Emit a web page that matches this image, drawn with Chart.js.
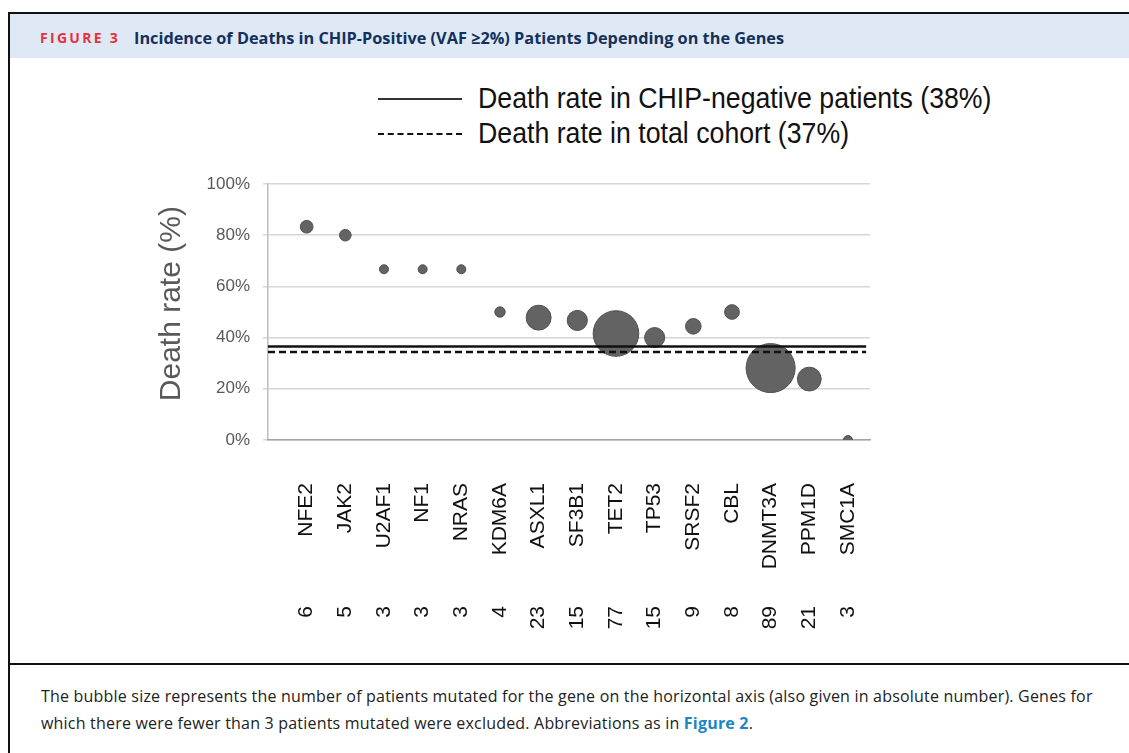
<!DOCTYPE html>
<html>
<head>
<meta charset="utf-8">
<script src="https://cdn.jsdelivr.net/npm/chart.js@4.4.1/dist/chart.umd.min.js"></script>
<style>
body{margin:0;background:#fff;width:1129px;height:753px;overflow:hidden;position:relative;font-family:"Open Sans",sans-serif}
.ln{position:absolute;background:#111}
#band{position:absolute;left:10px;top:14px;width:1119px;height:44px;background:#dfe9f5}
#fig{position:absolute;left:40px;top:28px;line-height:20px;font-size:14px;font-weight:700;letter-spacing:2.3px;color:#e5323b}
#ttl{position:absolute;left:134px;top:28px;line-height:20px;font-size:16.3px;font-weight:700;color:#13315c;white-space:nowrap}
#cap{position:absolute;left:41px;top:683px;line-height:27px;font-size:16px;letter-spacing:0.2px;color:#222;white-space:nowrap}
#cap b{color:#1a87c4}
#legend{position:absolute;left:378px;top:80px;font-family:"Liberation Sans",Arial,sans-serif}
.item{position:relative;height:35px}
.item .mk{position:absolute;left:0;top:18px;width:84px;border-top:2px solid #333}
.item .tx{position:absolute;left:100px;top:0;line-height:35px;font-size:30px;color:#111;white-space:nowrap;transform:scaleX(0.89);transform-origin:left center}
#c{position:absolute;left:0;top:0}
</style>
</head>
<body>
<div class="ln" style="left:8px;top:12px;width:2px;height:741px"></div>
<div class="ln" style="left:8px;top:12px;width:1121px;height:2px"></div>
<div id="band"></div>
<div id="fig">FIGURE 3</div>
<div id="ttl">Incidence of Deaths in CHIP-Positive (VAF &ge;2%) Patients Depending on the Genes</div>
<div id="legend"></div>
<div class="ln" style="left:8px;top:663px;width:1121px;height:2px"></div>
<div id="cap">The bubble size represents the number of patients mutated for the gene on the horizontal axis (also given in absolute number). Genes for<br>which there were fewer than 3 patients mutated were excluded. Abbreviations as in <b>Figure 2</b>.</div>
<canvas id="c" width="1129" height="753"></canvas>
<script>
// data
var genes = ['NFE2','JAK2','U2AF1','NF1','NRAS','KDM6A','ASXL1','SF3B1','TET2','TP53','SRSF2','CBL','DNMT3A','PPM1D','SMC1A'];
var patients = [6,5,3,3,3,4,23,15,77,15,9,8,89,21,3];
var deathRate = [83.3,80,66.7,66.7,66.7,50,47.8,46.7,41.6,40,44.4,50,28.1,23.8,0];
var yTicks = [0,20,40,60,80,100];
var refLabels = ['Death rate in CHIP-negative  patients (38%)','Death rate in total cohort (37%)'];
var refLevels = [36.5, 34.4];
var refDash = [[], [7,4]];
var refSpan = [0, 15.47];

// html legend for the two reference lines
var lg = document.getElementById('legend');
refLabels.forEach(function(t, i){
    var d = document.createElement('div');
    d.className = 'item';
    d.innerHTML = '<div class="mk" style="border-top-style:' + (i ? 'dashed;border-top-color:#111' : 'solid') + '"></div><div class="tx">' + t + '</div>';
    lg.appendChild(d);
});

var bubbles = genes.map(function(g, i){
    return {x: i + 1, y: deathRate[i], r: 2.6 * Math.sqrt(patients[i])};
});

var refSets = refLevels.map(function(v, i){
    return {
        type: 'line',
        data: refSpan.map(function(x){ return {x: x, y: v}; }),
        borderColor: '#111',
        borderWidth: 2.5,
        borderDash: refDash[i],
        pointRadius: 0,
        order: 0
    };
});

var ctx = document.getElementById('c').getContext('2d');
var chart = new Chart(ctx, {
    type: 'bubble',
    data: {
        datasets: [{
            data: bubbles,
            backgroundColor: '#636363',
            borderColor: '#505050',
            borderWidth: 1,
            clip: 0,
            order: 1
        }].concat(refSets)
    },
    options: {
        responsive: false,
        animation: false,
        layout: {padding: {left: 150, top: 184, right: 259, bottom: 113}},
        plugins: {legend: {display: false}, tooltip: {enabled: false}},
        scales: {
            y: {
                min: 0, max: 100,
                afterFit: function(s){ s.width = 118; },
                afterBuildTicks: function(s){ s.ticks = yTicks.map(function(v){ return {value: v}; }); },
                ticks: {
                    padding: 13,
                    color: '#595959',
                    font: {family: 'Liberation Sans', size: 17},
                    callback: function(v){ return v + '%'; }
                },
                grid: {color: '#d6d6d6', lineWidth: 1.5, tickLength: 5},
                border: {color: '#bdbdbd', width: 1.5},
                title: {
                    display: true,
                    text: '  Death rate (%)',
                    color: '#595959',
                    font: {family: 'Liberation Sans', size: 30},
                    padding: {top: 4, bottom: 0}
                }
            },
            x: {
                type: 'linear',
                position: 'bottom',
                min: 0, max: 15.57,
                afterFit: function(s){ s.height = 160; },
                afterBuildTicks: function(s){ s.ticks = genes.map(function(g, i){ return {value: i + 1}; }); },
                ticks: {
                    autoSkip: false,
                    minRotation: 90, maxRotation: 90,
                    padding: 43,
                    color: '#111',
                    font: {family: 'Liberation Sans', size: 21},
                    callback: function(v){ return genes[v - 1]; }
                },
                grid: {display: false, drawTicks: false},
                border: {color: '#a6a6a6', width: 1.5}
            },
            n: {
                type: 'linear',
                position: 'bottom',
                min: 0, max: 15.57,
                afterFit: function(s){ s.height = 40; },
                afterBuildTicks: function(s){ s.ticks = patients.map(function(p, i){ return {value: i + 1}; }); },
                ticks: {
                    autoSkip: false,
                    minRotation: 90, maxRotation: 90,
                    padding: 6,
                    color: '#111',
                    font: {family: 'Liberation Sans', size: 21},
                    callback: function(v){ return String(patients[v - 1]); }
                },
                grid: {display: false, drawTicks: false},
                border: {display: false}
            }
        }
    }
});
</script>
</body>
</html>
